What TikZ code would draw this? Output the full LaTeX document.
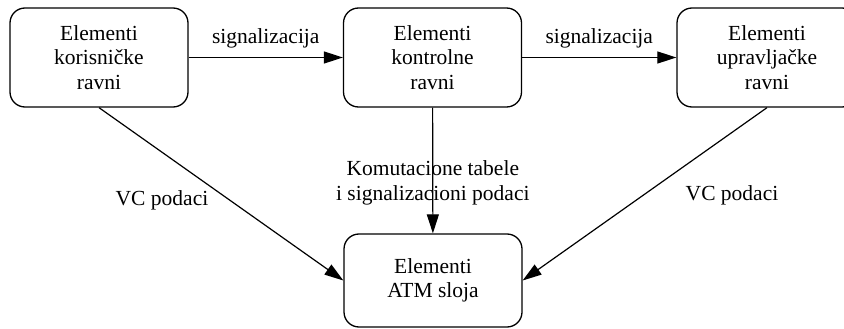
\documentclass[tikz,border=0pt]{standalone}
\usepackage{fontspec}
\setmainfont{Liberation Serif}
\usetikzlibrary{arrows.meta, positioning}

\begin{document}
\begin{tikzpicture}[x=1pt, y=-1pt,
    font=\fontsize{21.5}{24.5}\selectfont,
    plane/.style={draw, line width=1.3pt, rounded corners=15pt, minimum width=178pt, minimum height=99pt, align=center, inner sep=0pt},
    flow/.style={-{Triangle[length=19pt, width=12pt]}, line width=1.2pt}]
  \useasboundingbox (0,0) rectangle (844,329);

  % Planes
  \node[plane] (user) at (99,57.5) {Elementi\\korisničke\\ravni};
  \node[plane] (ctrl) at (432.5,57.5) {Elementi\\kontrolne\\ravni};
  \node[plane, minimum width=180pt] (mgmt) at (767,57.5) {Elementi\\upravljačke\\ravni};

  % ATM layer
  \node[plane, minimum height=93pt] (atm) at (433,280.5) {Elementi\\ATM sloja};

  % Signalling
  \draw[flow] (user) -- (ctrl) node[midway, above=5pt] (sigA) {signalizacija};
  \draw[flow] (ctrl) -- (mgmt) node[midway, above=5pt] (sigB) {signalizacija};

  % Down to the ATM layer
  \draw[flow] (ctrl) -- (atm) node[pos=0.6, align=center] (tables) {Komutacione tabele\\i signalizacioni podaci};
  \draw[flow] (user.south) -- (atm.west);
  \draw[flow] (mgmt.south) -- (atm.east);
  \node (vcA) at (162,200) {VC podaci};
  \node (vcB) at (732,195) {VC podaci};
\end{tikzpicture}
\end{document}
